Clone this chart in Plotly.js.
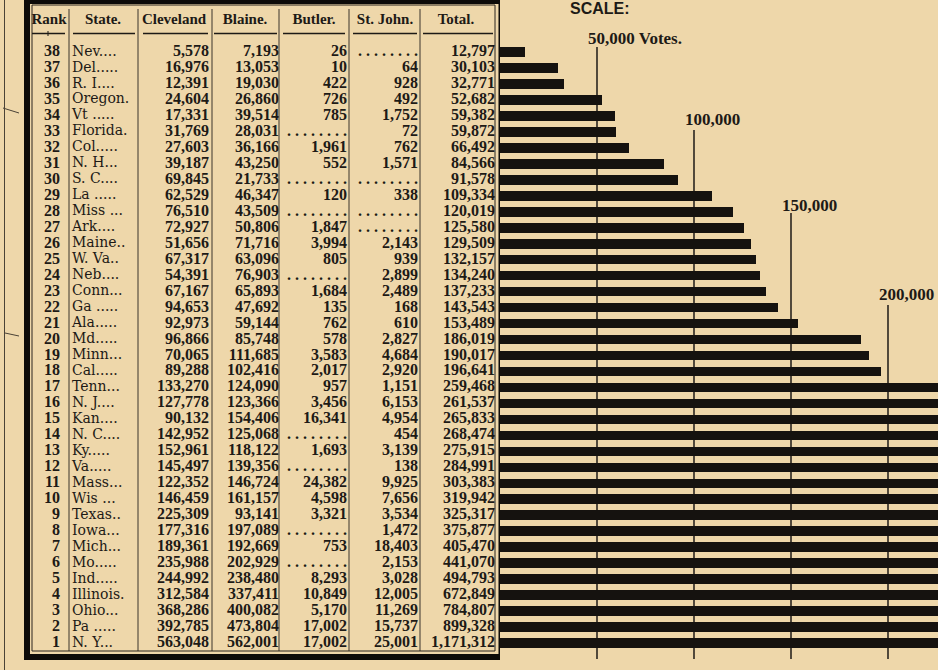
<!DOCTYPE html>
<html><head><meta charset="utf-8">
<script src="https://cdn.plot.ly/plotly-3.0.1.min.js"></script>
<style>html,body{margin:0;padding:0;background:#eed7aa;}#chart{width:938px;height:670px;}</style>
</head><body><div id="chart"></div>
<script>
const ranks = [38,37,36,35,34,33,32,31,30,29,28,27,26,25,24,23,22,21,20,19,18,17,16,15,14,13,12,11,10,9,8,7,6,5,4,3,2,1];
const states = ["Nev....","Del.....","R. I....","Oregon.","Vt .....","Florida.","Col.....","N. H...","S. C....","La .....","Miss ...","Ark....","Maine..","W. Va..","Neb....","Conn...","Ga .....","Ala.....","Md.....","Minn...","Cal.....","Tenn...","N. J....","Kan....","N. C....","Ky.....","Va.....","Mass...","Wis ...","Texas..","Iowa...","Mich...","Mo.....","Ind.....","Illinois.","Ohio...","Pa .....","N. Y..."];
const cleveland = [5578,16976,12391,24604,17331,31769,27603,39187,69845,62529,76510,72927,51656,67317,54391,67167,94653,92973,96866,70065,89288,133270,127778,90132,142952,152961,145497,122352,146459,225309,177316,189361,235988,244992,312584,368286,392785,563048];
const blaine = [7193,13053,19030,26860,39514,28031,36166,43250,21733,46347,43509,50806,71716,63096,76903,65893,47692,59144,85748,111685,102416,124090,123366,154406,125068,118122,139356,146724,161157,93141,197089,192669,202929,238480,337411,400082,473804,562001];
const butler = [26,10,422,726,785,null,1961,552,null,120,null,1847,3994,805,null,1684,135,762,578,3583,2017,957,3456,16341,null,1693,null,24382,4598,3321,null,753,null,8293,10849,5170,17002,17002];
const stjohn = [null,64,928,492,1752,72,762,1571,null,338,null,null,2143,939,2899,2489,168,610,2827,4684,2920,1151,6153,4954,454,3139,138,9925,7656,3534,1472,18403,2153,3028,12005,11269,15737,25001];
const totals = [12797,30103,32771,52682,59382,59872,66492,84566,91578,109334,120019,125580,129509,132157,134240,137233,143543,153489,186019,190017,196641,259468,261537,265833,268474,275915,284991,303383,319942,325317,375877,405470,441070,494793,672849,784807,899328,1171312];
const headers = ["Rank","State.","Cleveland","Blaine.","Butler.","St. John.","Total."];
const scaleTicks = [50000,100000,150000,200000];
const scaleLabels = ["50,000 Votes.","100,000","150,000","200,000"];

// ---- layout helpers ----
const W = 938, H = 670;
const ink = "#1d1a16";
const bg = "#eed7aa";
const py = p => 1 - p / H;            // pixel -> paper y
const fmt = v => v == null ? ". . . . . . . ." : v.toLocaleString("en-US");
const col = (x, n) => Array(n).fill(x);

const numFont = {family: "Liberation Serif", size: 16, color: ink, weight: "bold"};
function textCol(x, vals, pos, font) {
  return {type: "scatter", mode: "text", xaxis: "x2", yaxis: "y",
    x: col(x, vals.length), y: ranks, text: vals, textposition: pos,
    textfont: font, hoverinfo: "skip", showlegend: false, cliponaxis: false};
}

const traces = [
  {type: "bar", orientation: "h", x: totals, y: ranks, xaxis: "x", yaxis: "y",
   width: 0.6, marker: {color: "#15120f", line: {width: 0}}, hoverinfo: "skip", showlegend: false},
  textCol(60, ranks.map(String), "middle left", {family: "Liberation Serif", size: 16, color: ink, weight: "bold"}),
  textCol(72, states, "middle right", {family: "DejaVu Serif", size: 14, color: ink}),
  textCol(209, cleveland.map(fmt), "middle left", numFont),
  textCol(279, blaine.map(fmt), "middle left", numFont),
  textCol(347, butler.map(fmt), "middle left", numFont),
  textCol(418, stjohn.map(fmt), "middle left", numFont),
  textCol(495, totals.map(fmt), "middle left", numFont),
  {type: "scatter", mode: "text", xaxis: "x2", yaxis: "y",
   x: [49, 103, 174, 245, 314, 385, 456], y: col(40, 7), text: headers,
   textposition: "middle center",
   textfont: {family: "Liberation Serif", size: 15, color: ink, weight: "bold"},
   hoverinfo: "skip", showlegend: false, cliponaxis: false}
];

const shapes = [];
// scale lines (behind bars)
const lineTops = [47, 130, 213, 305];
scaleTicks.forEach((t, i) => shapes.push({type: "line", layer: "below", xref: "x", yref: "paper",
  x0: t, x1: t, y0: py(lineTops[i]), y1: py(659), line: {color: "#2a251f", width: 1.6}}));
// column separators
[69, 138, 212, 279, 349, 420].forEach(x => shapes.push({type: "line", xref: "x2", yref: "paper",
  x0: x, x1: x, y0: py(9), y1: py(651), line: {color: "#3a342c", width: 1}}));
// header underlines
[[32,65],[73,135],[143,208],[214,277],[283,345],[353,417],[423,493]].forEach(s => shapes.push({type: "line",
  xref: "x2", yref: "paper", x0: s[0], x1: s[1], y0: py(33.5), y1: py(33.5), line: {color: ink, width: 1.3}}));
shapes.push({type: "line", xref: "x2", yref: "paper", x0: 48, x1: 48, y0: py(31), y1: py(36), line: {color: ink, width: 1}});
// table frame: thick outer, thin inner
shapes.push({type: "rect", xref: "x2", yref: "paper", x0: 27, x1: 501.5, y0: py(1), y1: py(657),
  line: {color: "#0d0b09", width: 6}, fillcolor: "rgba(0,0,0,0)"});
shapes.push({type: "rect", xref: "x2", yref: "paper", x0: 32, x1: 495, y0: py(5), y1: py(651),
  line: {color: "#2a251f", width: 1}, fillcolor: "rgba(0,0,0,0)"});
// faint outer page rule and marks at the far left
shapes.push({type: "line", xref: "x2", yref: "paper", x0: 4.5, x1: 4.5, y0: py(0), y1: py(670), line: {color: "#4a4236", width: 1}});
shapes.push({type: "line", xref: "x2", yref: "paper", x0: 3, x1: 19, y0: py(108), y1: py(113), line: {color: "#4a4236", width: 1}});
shapes.push({type: "line", xref: "x2", yref: "paper", x0: 5, x1: 19, y0: py(333), y1: py(336), line: {color: "#4a4236", width: 1}});

const labelY = [39, 119, 206, 294];
const annotations = scaleTicks.map((t, i) => ({xref: "x", yref: "paper", x: t, y: py(labelY[i]),
  xanchor: "left", yanchor: "middle", xshift: -11, text: scaleLabels[i], showarrow: false,
  font: {family: "Liberation Serif", size: 17, color: ink, weight: "bold"}}));
annotations.push({xref: "paper", yref: "paper", x: 568 / W, y: py(8.5), xanchor: "left", yanchor: "middle",
  text: "SCALE:", showarrow: false, font: {family: "Liberation Sans", size: 16, color: ink, weight: "bold"}});

const layout = {
  width: W, height: H, margin: {l: 0, r: 0, t: 0, b: 0},
  paper_bgcolor: bg, plot_bgcolor: "rgba(0,0,0,0)",
  showlegend: false, hovermode: false, bargap: 0,
  xaxis: {domain: [500 / W, 1], range: [0, 225773], visible: false, fixedrange: true},
  xaxis2: {domain: [0, 500 / W], range: [0, 500], visible: false, fixedrange: true, anchor: "y"},
  yaxis: {domain: [0, 1], range: [-0.69, 41.26], visible: false, fixedrange: true},
  shapes: shapes, annotations: annotations
};

Plotly.newPlot("chart", traces, layout, {staticPlot: true, displayModeBar: false});
</script></body></html>
